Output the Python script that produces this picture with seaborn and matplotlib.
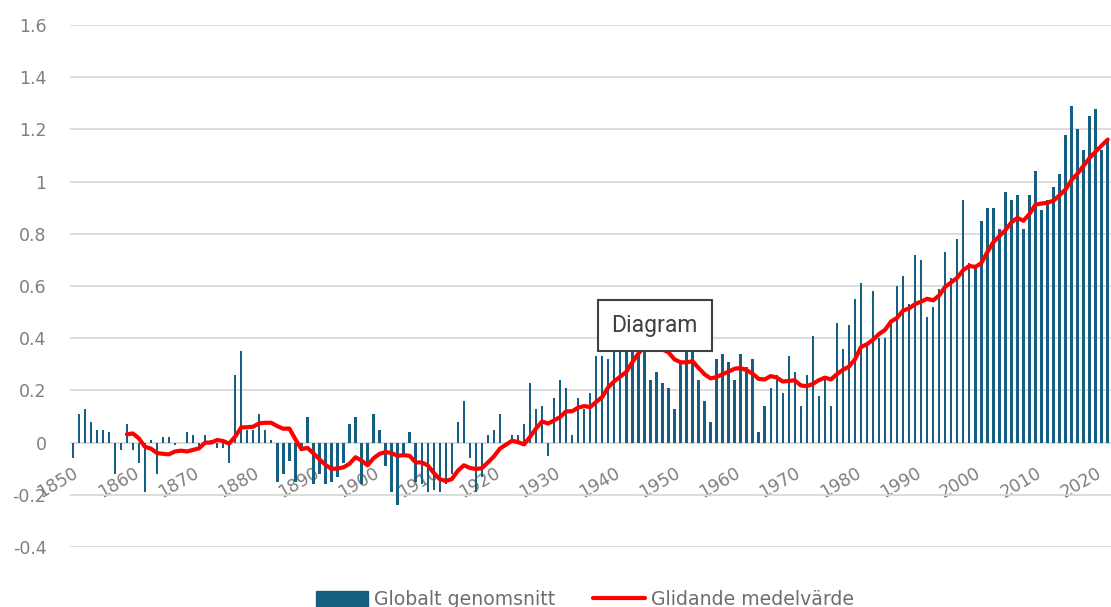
import numpy as np
import pandas as pd
import seaborn as sns
import matplotlib.pyplot as plt
from matplotlib.patches import Patch
from matplotlib.lines import Line2D

# Global temperature anomaly per year
years = list(range(1850, 2023))
anomaly = [
    -0.06, 0.11, 0.13, 0.08, 0.05, 0.05, 0.04, -0.12, -0.03, 0.07,   # 1850s
    -0.03, -0.08, -0.19, 0.01, -0.12, 0.02, 0.02, -0.01, 0.00, 0.04,  # 1860s
    0.03, -0.02, 0.03, 0.01, -0.02, -0.02, -0.08, 0.26, 0.35, 0.05,   # 1870s
    0.05, 0.11, 0.05, 0.01, -0.15, -0.12, -0.07, -0.15, -0.03, 0.10,  # 1880s
    -0.16, -0.12, -0.16, -0.15, -0.13, -0.08, 0.07, 0.10, -0.16, -0.08,  # 1890s
    0.11, 0.05, -0.09, -0.19, -0.24, -0.05, 0.04, -0.15, -0.16, -0.19,   # 1900s
    -0.18, -0.19, -0.16, -0.12, 0.08, 0.16, -0.06, -0.19, -0.13, 0.03,   # 1910s
    0.05, 0.11, -0.01, 0.03, 0.03, 0.07, 0.23, 0.13, 0.14, -0.05,     # 1920s
    0.17, 0.24, 0.21, 0.03, 0.17, 0.13, 0.19, 0.33, 0.33, 0.32,       # 1930s
    0.40, 0.42, 0.39, 0.40, 0.50, 0.40, 0.24, 0.27, 0.23, 0.21,       # 1940s
    0.13, 0.31, 0.38, 0.45, 0.24, 0.16, 0.08, 0.32, 0.34, 0.31,       # 1950s
    0.24, 0.34, 0.29, 0.32, 0.04, 0.14, 0.21, 0.26, 0.19, 0.33,       # 1960s
    0.27, 0.14, 0.26, 0.41, 0.18, 0.24, 0.14, 0.46, 0.36, 0.45,       # 1970s
    0.55, 0.61, 0.37, 0.58, 0.40, 0.40, 0.46, 0.60, 0.64, 0.53,       # 1980s
    0.72, 0.70, 0.48, 0.52, 0.59, 0.73, 0.63, 0.78, 0.93, 0.69,       # 1990s
    0.68, 0.85, 0.90, 0.90, 0.82, 0.96, 0.93, 0.95, 0.82, 0.95,       # 2000s
    1.04, 0.89, 0.93, 0.98, 1.03, 1.18, 1.29, 1.20, 1.12, 1.25,       # 2010s
    1.28, 1.12, 1.16,                                                  # 2020s
]
tick_years = list(range(1850, 2021, 10))
y_ticks = [-0.4, -0.2, 0, 0.2, 0.4, 0.6, 0.8, 1, 1.2, 1.4, 1.6]

bar_color = '#156082'
line_color = '#ff0000'
grey = '#7f7f7f'

df = pd.DataFrame({'Year': years, 'Anomaly': anomaly})
df['Pos'] = np.arange(len(df))
df['Rolling'] = df['Anomaly'].rolling(10).mean()

sns.set_style('white')
plt.rcParams['font.family'] = ['DejaVu Sans']

fig = plt.figure(figsize=(11.11, 6.07), dpi=100)
ax = fig.add_axes([70 / 1111, 1 - 547 / 607, 1041 / 1111, 522 / 607])

sns.barplot(data=df, x='Pos', y='Anomaly', color=bar_color, saturation=1,
            width=0.4, errorbar=None, linewidth=0, ax=ax, zorder=2)
sns.lineplot(data=df, x='Pos', y='Rolling', color=line_color, linewidth=3,
             ax=ax, zorder=3)

ax.set_xlim(-0.45, len(years) - 0.45)
ax.set_ylim(-0.4, 1.6)

# y axis with Excel-like labels
ax.set_yticks(y_ticks)
ax.set_yticklabels(['%g' % v for v in y_ticks])
ax.tick_params(axis='y', length=0, pad=17, labelsize=12.5, labelcolor=grey)

# x axis crosses at zero, labels every ten years
for s in ax.spines.values():
    s.set_visible(False)
ax.spines['bottom'].set_position(('data', 0))
ax.set_xticks([y - years[0] for y in tick_years])
ax.set_xticklabels([str(y) for y in tick_years])
ax.tick_params(axis='x', length=0, pad=15, labelsize=12.5, labelcolor=grey)
plt.setp(ax.get_xticklabels(), rotation=30, ha='right', va='top',
         rotation_mode='anchor')

ax.grid(axis='y', color='#d9d9d9', linewidth=1.3)
ax.grid(axis='x', visible=False)
ax.set_axisbelow(True)
ax.set_xlabel('')
ax.set_ylabel('')

# "Diagram" title box sitting over the 1940s
ax.text(96.7, 0.448, 'Diagram', ha='center', va='center', fontsize=16.5,
        family='Roboto', color='#404040', zorder=5,
        bbox=dict(boxstyle='square,pad=0.6', fc='white', ec='#404040', lw=1.5))

handles = [Patch(color=bar_color), Line2D([], [], color=line_color, lw=3)]
fig.legend(handles, ['Globalt genomsnitt', 'Glidande medelvärde'],
           loc='center', bbox_to_anchor=(585 / 1111, 0.012), ncol=2,
           frameon=False, fontsize=13.6, labelcolor='#6e6e6e',
           handlelength=2.75, handleheight=0.9, handletextpad=0.3,
           columnspacing=2.0)

fig.savefig('out.png', dpi=100)
